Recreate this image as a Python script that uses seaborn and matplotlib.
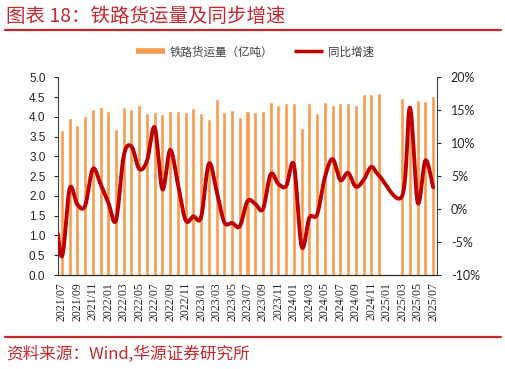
import numpy as np
import pandas as pd
import matplotlib
matplotlib.use("Agg")
import matplotlib.pyplot as plt
from matplotlib.lines import Line2D
from matplotlib.ticker import FixedLocator, FuncFormatter
import seaborn as sns

# ---------------- data ----------------
months = ["2021/07", "2021/08", "2021/09", "2021/10", "2021/11", "2021/12",
          "2022/01", "2022/02", "2022/03", "2022/04", "2022/05", "2022/06",
          "2022/07", "2022/08", "2022/09", "2022/10", "2022/11", "2022/12",
          "2023/01", "2023/02", "2023/03", "2023/04", "2023/05", "2023/06",
          "2023/07", "2023/08", "2023/09", "2023/10", "2023/11", "2023/12",
          "2024/01", "2024/02", "2024/03", "2024/04", "2024/05", "2024/06",
          "2024/07", "2024/08", "2024/09", "2024/10", "2024/11", "2024/12",
          "2025/01", "2025/02", "2025/03", "2025/04", "2025/05", "2025/06",
          "2025/07"]
volume = [3.67, 3.96, 3.79, 4.03, 4.21, 4.26, 4.15, 3.69, 4.26, 4.20, 4.29, 4.10,
          4.11, 4.07, 4.15, 4.16, 4.12, 4.22, 4.09, 3.95, 4.44, 4.11, 4.18, 3.99,
          4.16, 4.11, 4.15, 4.38, 4.29, 4.36, 4.36, 3.72, 4.36, 4.10, 4.38, 4.30,
          4.34, 4.35, 4.29, 4.57, 4.57, 4.61, np.nan, np.nan, 4.47, 4.30, 4.42, 4.39,
          4.53]
yoy = [-7.2, 3.1, 0.7, 0.5, 6.1, 3.8, 1.0, -1.7, 8.1, 9.5, 6.1, 7.3,
       12.4, 3.0, 9.0, 3.8, -1.7, -1.1, -1.2, 6.9, 2.8, -2.0, -2.1, -2.6,
       1.2, 0.8, 0.0, 5.3, 3.8, 3.5, 6.7, -5.7, -1.3, -0.8, 4.8, 7.6,
       4.4, 5.5, 3.4, 4.4, 6.4, 5.1, np.nan, np.nan, 2.0, 15.4, 1.0, 7.4,
       3.3]
yoy_prev = 2.0  # 2021/06, only partly visible at the left edge
left_ticks = [0.0, 0.5, 1.0, 1.5, 2.0, 2.5, 3.0, 3.5, 4.0, 4.5, 5.0]
right_ticks = [-10, -5, 0, 5, 10, 15, 20]

title = "图表 18：铁路货运量及同步增速"
source = "资料来源：Wind,华源证券研究所"
bar_label = "铁路货运量（亿吨）"
line_label = "同比增速"

# ---------------- style ----------------
sns.set_style("white")
plt.rcParams["font.family"] = ["Noto Sans CJK SC", "DejaVu Sans"]
BAR_C = "#F89C4C"
LINE_C = "#C00000"
RED = "#C8282E"

W, H = 506, 369
fig = plt.figure(figsize=(W / 100, H / 100), dpi=100)
ax = fig.add_axes([58 / W, 1 - 275 / H, (437 - 58) / W, (275 - 77.3) / H])

df = pd.DataFrame({"month": months, "volume": volume})
sns.barplot(data=df, x="month", y="volume", order=months, color=BAR_C,
            width=0.52, saturation=1, ax=ax, errorbar=None)
ax.set_xlabel("")
ax.set_ylabel("")
ax.set_xlim(-0.5, len(months) - 0.5)
ax.set_ylim(0, 5)
ax.yaxis.set_major_locator(FixedLocator(left_ticks))
ax.yaxis.set_major_formatter(FuncFormatter(lambda v, p: f"{v:.1f}"))

# x ticks: labels every 2 months, marks at category boundaries
pos = np.arange(len(months))
ax.set_xticks(pos[::2])
ax.set_xticklabels([months[i] for i in pos[::2]], rotation=90,
                   fontfamily="Liberation Serif", fontsize=8.5)
ax.set_xticks(np.arange(-0.5, len(months), 2), minor=True)
ax.tick_params(axis="x", which="major", length=0, pad=5, colors="#262626")
ax.tick_params(axis="x", which="minor", length=3, width=0.8, color="#262626")
ax.tick_params(axis="y", which="major", length=3, width=0.8, pad=6,
               labelsize=8.5, colors="#262626")
for lab in ax.get_yticklabels():
    lab.set_fontfamily("Liberation Sans")

for s in ["top", "right"]:
    ax.spines[s].set_visible(False)
ax.spines["left"].set_color("#404040")
ax.spines["left"].set_linewidth(0.8)
ax.spines["bottom"].set_color("#262626")
ax.spines["bottom"].set_linewidth(0.9)

# ---------------- line (secondary axis) ----------------
ax2 = ax.twinx()
xs = np.concatenate([[-1], pos]).astype(float)
ys = np.concatenate([[yoy_prev], np.array(yoy, dtype=float)])
m = ~np.isnan(ys)
xs, ys = xs[m], ys[m]


def smooth(x, y, n=24):
    P = np.column_stack([x, y])
    P = np.vstack([P[0], P, P[-1]])
    out = []
    t = np.linspace(0, 1, n, endpoint=False)[:, None]
    for i in range(1, len(P) - 2):
        p0, p1, p2, p3 = P[i - 1], P[i], P[i + 1], P[i + 2]
        c1 = p1 + (p2 - p0) / 6
        c2 = p2 - (p3 - p1) / 6
        out.append((1 - t) ** 3 * p1 + 3 * (1 - t) ** 2 * t * c1
                   + 3 * (1 - t) * t ** 2 * c2 + t ** 3 * p2)
    out.append(P[-2][None])
    return np.vstack(out)


curve = smooth(xs, ys)
cdf = pd.DataFrame({"x": curve[:, 0], "y": curve[:, 1]})
sns.lineplot(data=cdf, x="x", y="y", sort=False, color=LINE_C, lw=2.8,
             ax=ax2, estimator=None)
ax2.set_xlim(-0.5, len(months) - 0.5)
ax2.set_ylim(-10, 20)
ax2.set_xlabel("")
ax2.set_ylabel("")
ax2.yaxis.set_major_locator(FixedLocator(right_ticks))
ax2.yaxis.set_major_formatter(FuncFormatter(lambda v, p: f"{int(v)}%"))
ax2.tick_params(axis="y", length=3, width=0.8, pad=7, labelsize=9,
                colors="#262626")
for lab in ax2.get_yticklabels():
    lab.set_fontfamily("Lato")
for s in ["top", "left", "bottom"]:
    ax2.spines[s].set_visible(False)
ax2.spines["right"].set_color("#404040")
ax2.spines["right"].set_linewidth(0.8)

# ---------------- legend ----------------
handles = [Line2D([], [], color=BAR_C, lw=4, solid_capstyle="butt"),
           Line2D([], [], color=LINE_C, lw=2.5, solid_capstyle="butt")]
fig.legend(handles, [bar_label, line_label], loc="center",
           bbox_to_anchor=(255 / W, 1 - 52 / H), ncol=2, frameon=False,
           fontsize=8.3, handlelength=2.5, handletextpad=0.4,
           columnspacing=1.8, labelcolor="#404040")

# ---------------- title, rules, source ----------------
fig.text(6 / W, 1 - 16 / H, title, ha="left", va="center", fontsize=14,
         color=RED)
fig.add_artist(Line2D([5 / W, 501 / W], [1 - 30 / H] * 2, color=RED, lw=1.6))
fig.add_artist(Line2D([5 / W, 501 / W], [1 - 337 / H] * 2, color=RED, lw=1.6))
fig.text(6 / W, 1 - 354 / H, source, ha="left", va="center", fontsize=12,
         color=RED)

fig.savefig("out.png", dpi=100)
